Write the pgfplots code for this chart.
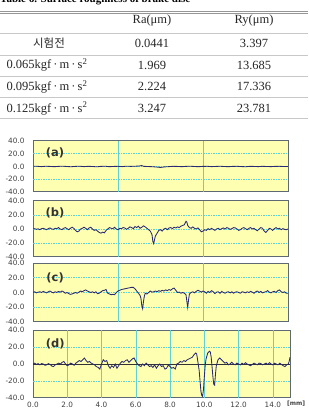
\documentclass[border=0pt]{standalone}
\usepackage{pgfplots}
\pgfplotsset{compat=1.18}
\usepackage{fontspec}
\setmainfont{Liberation Serif}
\setsansfont{DejaVu Sans}
\newfontfamily\kr{Noto Sans CJK KR}
\definecolor{bgy}{RGB}{255,255,178}
\definecolor{gridc}{RGB}{95,208,212}
\definecolor{frame}{RGB}{95,105,115}
\definecolor{trace}{RGB}{42,42,115}
\definecolor{rulec}{RGB}{150,150,150}
\definecolor{rowc}{RGB}{200,200,200}
\pgfplotsset{
 panel/.style={
  scale only axis, xmin=0, xmax=15, ymin=-40, ymax=40,
  ytick={-40,-20,0,20,40},
  yticklabels={-40.0,-20.0,0.0,20.0,40.0},
  axis background/.style={fill=bgy},
  axis line style={draw=frame, line width=1pt},
  major tick length=0pt,
  yticklabel style={font=\sffamily\fontsize{7.3}{8}\selectfont, text=black!75, xshift=-5pt},
  xtick=\empty,
 },
 trace/.style={draw=trace, line width=0.85pt, no marks},
}
\tikzset{
 hgrid/.style={gridc, line width=0.6pt, dash pattern=on 1.5pt off 1pt},
 vgrid/.style={gridc, line width=0.6pt},
 plab/.style={font=\sffamily\bfseries\fontsize{11.5}{13}\selectfont, text=black!80},
}
\begin{document}
\begin{tikzpicture}
\useasboundingbox (0pt,0pt) rectangle (308pt,415pt);
% ---------- table ----------
\begin{scope}[x=1pt,y=1pt]
\node[anchor=base west, inner sep=0pt, font=\bfseries\fontsize{11}{13}\selectfont] at (0,412) {Table 6. Surface roughness of brake disc};
\draw[rulec, line width=0.9pt] (0,404) -- (308,404);
\draw[rulec, line width=0.6pt] (0,401.3) -- (308,401.3);
\draw[rowc, line width=0.6pt] (0,382) -- (308,382);
\draw[rowc, line width=0.6pt] (0,360) -- (308,360);
\draw[rowc, line width=0.6pt] (0,339) -- (308,339);
\draw[rowc, line width=0.6pt] (0,318) -- (308,318);
\draw[rowc, line width=0.6pt] (0,297) -- (308,297);
\begin{scope}[every node/.style={font=\fontsize{12.5}{14}\selectfont, text=black!85, inner sep=0pt}]
\node at (152,394) {Ra(μm)};
\node at (254,394) {Ry(μm)};
\node at (49,371.7) {\kr\fontsize{11.5}{13}\selectfont 시험전};
\node at (152,371.7) {0.0441};
\node at (254,371.7) {3.397};
\node at (47,350) {0.065kgf\,·\,m\,·\,s\textsuperscript{2}};
\node at (152,350) {1.969};
\node at (254,350) {13.685};
\node at (47,328.3) {0.095kgf\,·\,m\,·\,s\textsuperscript{2}};
\node at (152,328.3) {2.224};
\node at (254,328.3) {17.336};
\node at (47,306.7) {0.125kgf\,·\,m\,·\,s\textsuperscript{2}};
\node at (152,306.7) {3.247};
\node at (254,306.7) {23.781};
\end{scope}
\end{scope}
% ---------- panel a ----------
\begin{axis}[panel, at={(33pt,223pt)}, anchor=south west, width=255pt, height=51pt]
\draw[hgrid] (axis cs:0,20) -- (axis cs:15,20);
\draw[hgrid] (axis cs:0,0) -- (axis cs:15,0);
\draw[hgrid] (axis cs:0,-20) -- (axis cs:15,-20);
\draw[vgrid] (axis cs:5,-40) -- (axis cs:5,40);
\draw[vgrid] (axis cs:10,-40) -- (axis cs:10,40);
\addplot[trace] coordinates {(0,0.5) (0.25,0.3) (0.5,-0.2) (0.75,0.4) (1.0,0.1) (1.25,-0.3) (1.5,0.2) (1.75,0.5) (2.0,0) (2.25,-0.4) (2.5,0.2) (2.75,0.4) (3.0,-0.2) (3.25,0.3) (3.5,0) (3.75,-0.5) (4.0,0.2) (4.25,0.4) (4.5,-0.3) (4.75,0.1) (5.0,0.3) (5.25,-0.2) (5.5,0.5) (5.75,0.2) (6.0,0.4) (6.25,0.8) (6.4,1.5) (6.5,0.3) (6.75,0) (7.0,-0.3) (7.25,-0.8) (7.5,-1.5) (7.75,-0.6) (8.0,-0.2) (8.25,0.3) (8.5,0.1) (8.75,-0.3) (9.0,0.2) (9.25,0.4) (9.5,0) (9.75,-0.3) (10.0,0.2) (10.25,0.3) (10.5,-0.2) (10.75,0.1) (11.0,0.4) (11.25,0) (11.5,-0.3) (11.75,0.2) (12.0,0.3) (12.25,-0.1) (12.5,-0.4) (12.75,0.2) (13.0,0.1) (13.25,-0.2) (13.5,0.3) (13.75,0) (14.0,-0.2) (14.25,0.2) (14.5,0.3) (14.75,-0.1) (15.0,0)};
\node[plab] at (axis cs:1.3,21) {(a)};
\end{axis}
% ---------- panel b ----------
\begin{axis}[panel, at={(33pt,158pt)}, anchor=south west, width=255pt, height=56pt]
\draw[hgrid] (axis cs:0,20) -- (axis cs:15,20);
\draw[hgrid] (axis cs:0,0) -- (axis cs:15,0);
\draw[hgrid] (axis cs:0,-20) -- (axis cs:15,-20);
\draw[vgrid] (axis cs:5,-40) -- (axis cs:5,40);
\draw[vgrid] (axis cs:10,-40) -- (axis cs:10,40);
\addplot[trace] coordinates {(0.0,0) (0.1,0.5) (0.2,-0.5) (0.3,0.3) (0.4,-1) (0.5,0.5) (0.6,1) (0.7,0) (0.8,-1) (0.9,0.5) (1.0,1.5) (1.1,0) (1.2,-0.5) (1.3,1) (1.4,0.5) (1.5,2) (1.6,0) (1.7,-1) (1.8,1) (1.9,2) (2.0,0.5) (2.1,-1) (2.2,1) (2.3,2.5) (2.4,1) (2.5,-2) (2.6,-4) (2.7,-3) (2.8,0) (2.9,1) (3.0,2.5) (3.1,1) (3.2,-1) (3.3,1.5) (3.4,2.5) (3.5,0) (3.6,-2) (3.7,-1) (3.8,-3) (3.9,-5) (4.0,-6) (4.1,-4.5) (4.2,-5.5) (4.3,-2) (4.4,0) (4.5,2) (4.6,1) (4.7,0.5) (4.8,2.5) (4.9,0) (5.0,-1) (5.1,1) (5.2,0.5) (5.3,2) (5.4,1.5) (5.5,-0.5) (5.6,1) (5.7,3) (5.8,2) (5.9,0.5) (6.0,3.5) (6.1,2) (6.2,4) (6.3,1) (6.4,2.5) (6.5,4.5) (6.6,3) (6.7,1) (6.8,-1) (6.9,-3) (7.0,-8) (7.05,-18) (7.1,-21) (7.15,-15) (7.2,-10) (7.3,-6) (7.4,-2) (7.5,-1) (7.6,-3) (7.7,0) (7.8,1) (7.9,-1) (8.0,1.5) (8.1,2) (8.2,0.5) (8.3,2.5) (8.4,1.5) (8.5,3) (8.6,2) (8.7,4) (8.8,5) (8.9,6) (9.0,11) (9.05,10) (9.1,5) (9.2,2) (9.3,1) (9.4,3) (9.5,1) (9.6,0) (9.7,1.5) (9.8,-1) (9.9,-4) (10.0,-3) (10.1,-1) (10.2,-2) (10.3,0.5) (10.4,-1) (10.5,1) (10.6,-0.5) (10.7,-2) (10.8,0) (10.9,1) (11.0,-1) (11.1,0.5) (11.2,1.5) (11.3,0) (11.4,2) (11.5,1) (11.6,-0.5) (11.7,0.5) (11.8,2) (11.9,1.5) (12.0,0) (12.1,-2) (12.2,-1) (12.3,1) (12.4,2) (12.5,0.5) (12.6,-1) (12.7,1) (12.8,2) (12.9,0) (13.0,1) (13.1,-1) (13.2,-2.5) (13.3,0) (13.4,2) (13.5,1) (13.6,-3) (13.7,-5) (13.8,-2) (13.9,1) (14.0,0) (14.1,-2) (14.2,0.5) (14.3,2) (14.4,0) (14.5,1) (14.6,-1) (14.7,0.5) (14.8,-0.5) (14.9,-1) (15.0,0)};
\node[plab] at (axis cs:1.3,23) {(b)};
\end{axis}
% ---------- panel c ----------
\begin{axis}[panel, at={(33pt,93pt)}, anchor=south west, width=255pt, height=59pt]
\draw[hgrid] (axis cs:0,20) -- (axis cs:15,20);
\draw[hgrid] (axis cs:0,0) -- (axis cs:15,0);
\draw[hgrid] (axis cs:0,-20) -- (axis cs:15,-20);
\draw[vgrid] (axis cs:5,-40) -- (axis cs:5,40);
\draw[vgrid] (axis cs:10,-40) -- (axis cs:10,40);
\addplot[trace] coordinates {(0.0,0) (0.1,1) (0.2,-0.5) (0.3,0.5) (0.4,1) (0.5,0) (0.6,1.5) (0.7,0.5) (0.8,-0.5) (0.9,1) (1.0,2) (1.1,0.5) (1.2,-0.5) (1.3,1) (1.4,0) (1.5,1.5) (1.6,0.5) (1.7,2) (1.8,1) (1.9,-1) (2.0,0) (2.1,-1.5) (2.2,-2.5) (2.3,-2) (2.4,-1) (2.5,0) (2.6,-1) (2.7,0.5) (2.8,2) (2.9,1) (3.0,2.5) (3.1,3.5) (3.2,2) (3.3,1) (3.4,0) (3.5,1) (3.6,-0.5) (3.7,1) (3.8,-1.5) (3.9,-1) (4.0,1) (4.1,2.5) (4.2,3) (4.3,4) (4.35,1) (4.4,-1) (4.5,-2) (4.6,-3) (4.7,-2.5) (4.8,-3) (4.9,0) (5.0,2) (5.1,3) (5.2,4) (5.3,4.5) (5.4,5) (5.5,5.5) (5.6,6) (5.7,6.5) (5.8,7) (5.9,7) (6.0,5) (6.1,2) (6.2,-1) (6.3,-4) (6.35,-8) (6.4,-18) (6.45,-22) (6.5,-12) (6.55,-5) (6.6,-1) (6.7,-2) (6.8,0) (6.9,2) (7.0,0.5) (7.1,1) (7.2,2) (7.3,1) (7.4,2.5) (7.5,1.5) (7.6,3) (7.7,2) (7.8,3.5) (7.9,2.5) (8.0,4) (8.1,3) (8.2,5) (8.3,6) (8.4,3) (8.5,0) (8.6,0.5) (8.7,-1) (8.8,0) (8.9,-1) (9.0,-3) (9.05,-12) (9.1,-20) (9.15,-10) (9.2,-2) (9.3,0) (9.4,1) (9.5,-0.5) (9.6,1.5) (9.7,3) (9.8,2) (9.9,0.5) (10.0,2) (10.1,1) (10.2,-1) (10.3,1.5) (10.4,0) (10.5,2.5) (10.6,1) (10.7,-1.5) (10.8,0.5) (10.9,1) (11.0,-1) (11.1,1.5) (11.2,0) (11.3,-1) (11.4,0.5) (11.5,1) (11.6,-0.5) (11.7,1) (11.8,-1) (11.9,0.5) (12.0,1) (12.1,0) (12.2,-1) (12.3,1) (12.4,0.5) (12.5,-0.5) (12.6,1) (12.7,0) (12.8,1.5) (12.9,0.5) (13.0,-1) (13.1,1) (13.2,2) (13.3,0) (13.4,1.5) (13.5,-0.5) (13.6,0.5) (13.7,1) (13.8,2.5) (13.9,0.5) (14.0,-0.5) (14.1,1) (14.2,1.5) (14.3,0) (14.4,2.5) (14.5,3.5) (14.6,1) (14.7,0) (14.8,1) (14.9,-1) (15.0,-1)};
\node[plab] at (axis cs:1.3,20) {(c)};
\end{axis}
% ---------- panel d ----------
\begin{axis}[panel, at={(33pt,17pt)}, anchor=south west, width=257pt, height=68pt,
  xtick={0,2,4,6,8,10,12,14},
  xticklabels={0.0,2.0,4.0,6.0,8.0,10.0,12.0,14.0},
  xticklabel style={font=\sffamily\fontsize{7.3}{8}\selectfont, text=black!75, yshift=-0.5pt}]
\draw[hgrid] (axis cs:0,20) -- (axis cs:15,20);
\draw[hgrid] (axis cs:0,-20) -- (axis cs:15,-20);
\draw[vgrid] (axis cs:2,-40) -- (axis cs:2,40);
\draw[vgrid] (axis cs:4,-40) -- (axis cs:4,40);
\draw[vgrid] (axis cs:6,-40) -- (axis cs:6,40);
\draw[vgrid] (axis cs:8,-40) -- (axis cs:8,40);
\draw[vgrid] (axis cs:10,-40) -- (axis cs:10,40);
\draw[vgrid] (axis cs:12,-40) -- (axis cs:12,40);
\draw[vgrid] (axis cs:14,-40) -- (axis cs:14,40);
\draw[black!80, line width=0.6pt] (axis cs:0,0) -- (axis cs:15,0);
\addplot[trace] coordinates {(0.0,0) (0.1,1) (0.2,-0.5) (0.3,0.5) (0.4,-1) (0.5,0.5) (0.6,0) (0.7,-1.5) (0.8,-1) (0.9,0.5) (1.0,-0.5) (1.1,-2.5) (1.2,-3) (1.3,-1) (1.4,0) (1.5,1) (1.6,0) (1.7,2) (1.8,3) (1.9,0) (2.0,-2) (2.1,-1) (2.2,1) (2.3,0) (2.4,-1.5) (2.5,1) (2.6,2.5) (2.7,4) (2.8,3) (2.9,5) (3.0,7) (3.1,4) (3.2,2) (3.3,3) (3.4,1) (3.5,0) (3.6,-1) (3.7,-3) (3.8,-4) (3.9,-6) (4.0,0) (4.1,5) (4.2,3) (4.3,4) (4.4,-2) (4.5,-5) (4.6,-2) (4.7,-4) (4.8,0) (4.9,-5) (5.0,-2) (5.1,1) (5.2,3) (5.3,2) (5.4,4) (5.5,5) (5.6,2) (5.7,4) (5.8,6) (5.9,7) (6.0,3) (6.1,0) (6.2,-2) (6.3,-3) (6.4,0) (6.5,-2) (6.6,1) (6.7,-1) (6.8,-3) (6.9,-2) (7.0,-4) (7.1,-1) (7.2,-5) (7.3,-2) (7.4,0) (7.5,-3) (7.6,-2) (7.7,-6) (7.8,-5) (7.9,-1) (8.0,-3) (8.1,-5) (8.2,-4) (8.3,-6) (8.4,0) (8.5,1) (8.6,3) (8.7,2) (8.8,4) (8.9,3) (9.0,5) (9.1,6) (9.2,7) (9.3,8) (9.4,11) (9.5,13) (9.55,12) (9.6,6) (9.7,-8) (9.75,-20) (9.8,-32) (9.85,-37) (9.9,-38) (9.95,-30) (10.0,-15) (10.05,-2) (10.1,6) (10.2,13) (10.3,15) (10.35,14) (10.4,8) (10.45,-3) (10.5,-15) (10.55,-24) (10.6,-25) (10.65,-12) (10.7,-2) (10.8,5) (10.9,7) (11.0,5) (11.1,3) (11.2,1) (11.3,2) (11.4,-1) (11.5,0) (11.6,2) (11.7,0) (11.8,-1) (11.9,1) (12.0,0) (12.1,-1) (12.2,1) (12.3,-0.5) (12.4,1.5) (12.5,0) (12.6,-1) (12.7,-2) (12.8,-0.5) (12.9,1) (13.0,0) (13.1,-1) (13.2,1) (13.3,0.5) (13.4,-1) (13.5,0) (13.6,1) (13.7,-0.5) (13.8,1.5) (13.9,0) (14.0,-1) (14.1,1) (14.2,0) (14.3,-1) (14.4,1) (14.5,-0.5) (14.6,-2) (14.7,-3) (14.8,-1) (14.9,0) (14.95,3) (15.0,8)};
\node[plab] at (axis cs:1.3,23.5) {(d)};
\end{axis}
\node[font=\sffamily\bfseries\fontsize{6}{7}\selectfont, text=black!75, inner sep=0pt] at (296pt,11pt) {[mm]};
\end{tikzpicture}
\end{document}
